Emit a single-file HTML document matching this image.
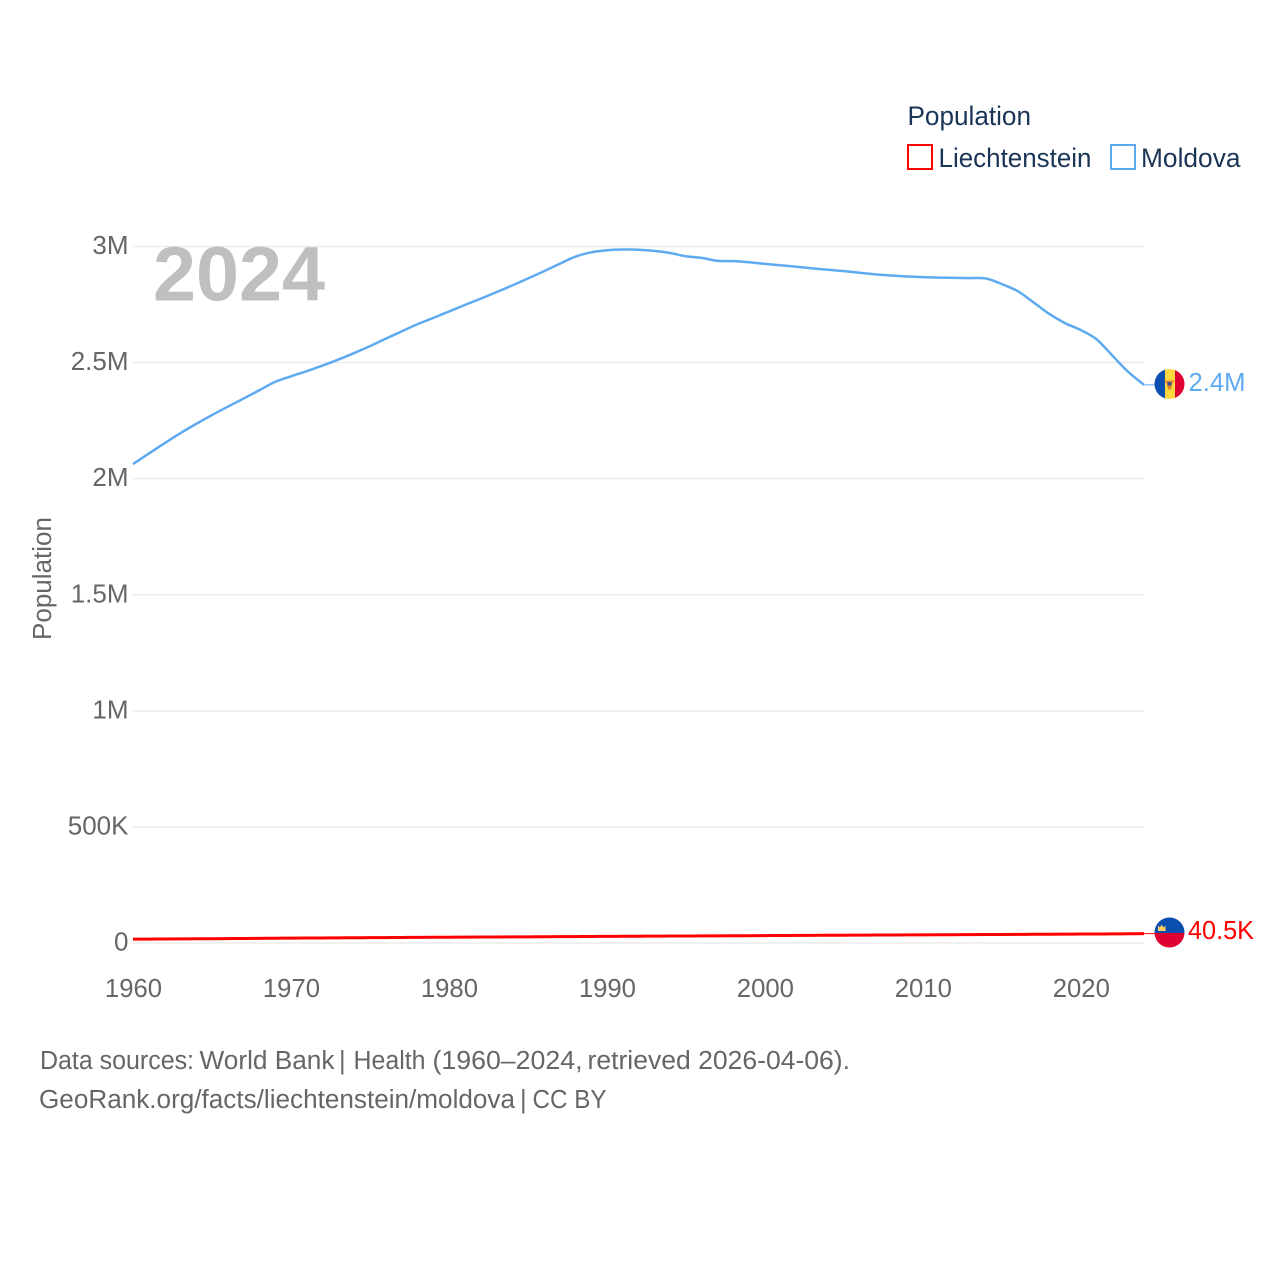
<!DOCTYPE html>
<html lang="en">
<head>
<meta charset="utf-8">
<title>Population: Liechtenstein and Moldova</title>
<style>
html,body{margin:0;padding:0;background:#fff;width:1280px;height:1280px;overflow:hidden}
svg{display:block}
text{font-family:"Liberation Sans",sans-serif}
</style>
</head>
<body>
<svg id="chart" xmlns="http://www.w3.org/2000/svg" width="1280" height="1280" viewBox="0 0 1280 1280">
  <rect width="1280" height="1280" fill="#fff"/>
  <g id="grid"></g>
  <g id="yticks"></g>
  <g id="xticks"></g>
  <text x="153" y="300.5" font-size="77" font-weight="700" fill="#bfbfbf" textLength="172" lengthAdjust="spacingAndGlyphs">2024</text>
  <text transform="translate(51 640) rotate(-90)" font-size="25.5" fill="#666" textLength="123" lengthAdjust="spacingAndGlyphs">Population</text>
  <g id="series"></g>

  <g>
    <text x="907.5" y="125" font-size="26.5" fill="#1b3557" textLength="123.5" lengthAdjust="spacingAndGlyphs">Population</text>
    <rect x="908" y="145" width="24" height="24" fill="#fff" stroke="#ff0000" stroke-width="2"/>
    <text x="938.5" y="167" font-size="26.5" fill="#1b3557" textLength="153" lengthAdjust="spacingAndGlyphs">Liechtenstein</text>
    <rect x="1111" y="145" width="24" height="24" fill="#fff" stroke="#5eaaf0" stroke-width="2"/>
    <text x="1141" y="167" font-size="26.5" fill="#1b3557" textLength="99.5" lengthAdjust="spacingAndGlyphs">Moldova</text>
  </g>

  <defs>
    <clipPath id="clip-md"><circle cx="1169.5" cy="384" r="15"/></clipPath>
    <clipPath id="clip-li"><circle cx="1169.5" cy="932.5" r="15"/></clipPath>
  </defs>
  <g clip-path="url(#clip-md)">
    <rect x="1154" y="369" width="11" height="30" fill="#0a4fb0"/>
    <rect x="1165" y="369" width="10" height="30" fill="#ffd83d"/>
    <rect x="1175" y="369" width="10" height="30" fill="#de0030"/>
    <path d="M1164 380.5 L1175 380.5 L1172 384 L1171 389.5 L1168 389.5 L1167 384 Z" fill="#e8862e"/>
    <rect x="1167.5" y="382" width="4" height="3.5" fill="#3a4a8c"/>
  </g>
  <g clip-path="url(#clip-li)">
    <rect x="1154" y="917" width="31" height="16" fill="#0a4fb0"/>
    <rect x="1154" y="933" width="31" height="15" fill="#de0030"/>
    <path d="M1158 931 L1158 925.5 L1160 927.5 L1161.5 924.5 L1163.5 927.5 L1165.5 925.5 L1165.5 931 Z" fill="#ffd060"/>
  </g>
  <text x="1188.5" y="391" font-size="25.5" fill="#5eaaf0" textLength="57" lengthAdjust="spacingAndGlyphs">2.4M</text>
  <text x="1188" y="939" font-size="25.5" fill="#ff0000" textLength="66" lengthAdjust="spacingAndGlyphs">40.5K</text>

  <g font-size="25.5" fill="#666">
    <text x="40" y="1069" textLength="154" lengthAdjust="spacingAndGlyphs">Data sources:</text>
    <text x="199.5" y="1069" textLength="135" lengthAdjust="spacingAndGlyphs">World Bank</text>
    <text x="339" y="1069">|</text>
    <text x="353.5" y="1069" textLength="72" lengthAdjust="spacingAndGlyphs">Health</text>
    <text x="432.5" y="1069" textLength="150" lengthAdjust="spacingAndGlyphs">(1960–2024,</text>
    <text x="587.5" y="1069" textLength="262.5" lengthAdjust="spacingAndGlyphs">retrieved 2026-04-06).</text>
  </g>
  <g font-size="25.5" fill="#666">
    <text x="39" y="1108" textLength="476" lengthAdjust="spacingAndGlyphs">GeoRank.org/facts/liechtenstein/moldova</text>
    <text x="520" y="1108">|</text>
    <text x="532.5" y="1108" textLength="74" lengthAdjust="spacingAndGlyphs">CC BY</text>
  </g>
</svg>
<script>
const years = [1960,1961,1962,1963,1964,1965,1966,1967,1968,1969,1970,1971,1972,1973,1974,1975,1976,1977,1978,1979,1980,1981,1982,1983,1984,1985,1986,1987,1988,1989,1990,1991,1992,1993,1994,1995,1996,1997,1998,1999,2000,2001,2002,2003,2004,2005,2006,2007,2008,2009,2010,2011,2012,2013,2014,2015,2016,2017,2018,2019,2020,2021,2022,2023,2024];
const moldova = [2063000,2108000,2153000,2196000,2236000,2274000,2310000,2345000,2381000,2417000,2441000,2463000,2487000,2513000,2541000,2571000,2603000,2634000,2665000,2692000,2720000,2748000,2775000,2803000,2832000,2862000,2893000,2925000,2956000,2975000,2984000,2987000,2986000,2981000,2972000,2958000,2951000,2938000,2937000,2932000,2925000,2919000,2913000,2906000,2900000,2894000,2887000,2880000,2875000,2871000,2868000,2866000,2865000,2864000,2862000,2838000,2808000,2760000,2710000,2670000,2640000,2600000,2530000,2460000,2404000];
const liechtenstein = [16500,16900,17300,17700,18100,18500,19000,19500,20000,20500,21000,21400,21800,22200,22600,23000,23400,23800,24200,24600,25000,25300,25600,25900,26200,26500,26900,27300,27700,28100,28500,28900,29300,29600,29900,30200,30500,30800,31100,31500,31900,32300,32700,33000,33300,33600,33900,34200,34500,34800,35100,35400,35700,36100,36500,36800,37100,37500,37900,38200,38500,38800,39100,39800,40500];
const yTickValues = [0,500000,1000000,1500000,2000000,2500000,3000000];
const yTickLabels = ["0","500K","1M","1.5M","2M","2.5M","3M"];
const xTickValues = [1960,1970,1980,1990,2000,2010,2020];

const NS = 'http://www.w3.org/2000/svg';
const xScale = function (year) { return 133 + (year - 1960) * (1144 - 133) / 64; };
const yScale = function (value) { return 943 - value * (943 - 246.5) / 3000000; };
const make = function (tag, parent) {
  const el = document.createElementNS(NS, tag);
  parent.appendChild(el);
  return el;
};

const grid = document.getElementById('grid');
const yticks = document.getElementById('yticks');
const xticks = document.getElementById('xticks');
const series = document.getElementById('series');

yTickValues.forEach(function (value, i) {
  const line = make('line', grid);
  
  
  line.setAttribute('x1', 133);
  line.setAttribute('x2', 1144);
  line.setAttribute('y1', yScale(value));
  line.setAttribute('y2', yScale(value));
  line.setAttribute('stroke', '#ebebeb');
  line.setAttribute('stroke-width', 1.5);

  const label = make('text', yticks);
  
  
  label.setAttribute('x', 128.5);
  label.setAttribute('y', yScale(value) + 7.5);
  label.setAttribute('text-anchor', 'end');
  label.setAttribute('font-size', 26);
  label.setAttribute('fill', '#666');
  label.textContent = yTickLabels[i];
});

xTickValues.forEach(function (year) {
  const label = make('text', xticks);
  
  
  label.setAttribute('x', xScale(year) + 0.5);
  label.setAttribute('y', 997);
  label.setAttribute('text-anchor', 'middle');
  label.setAttribute('font-size', 25.7);
  label.setAttribute('fill', '#666');
  label.textContent = String(year);
});

const pathFor = function (values) {
  const pts = values.map(function (v, i) {
    return [xScale(years[i]), yScale(v)];
  });
  let d = 'M' + pts[0][0].toFixed(2) + ' ' + pts[0][1].toFixed(2);
  for (let i = 0; i < pts.length - 1; i++) {
    const p0 = pts[Math.max(i - 1, 0)];
    const p1 = pts[i];
    const p2 = pts[i + 1];
    const p3 = pts[Math.min(i + 2, pts.length - 1)];
    const c1x = p1[0] + (p2[0] - p0[0]) / 6;
    const c1y = p1[1] + (p2[1] - p0[1]) / 6;
    const c2x = p2[0] - (p3[0] - p1[0]) / 6;
    const c2y = p2[1] - (p3[1] - p1[1]) / 6;
    d += ' C' + c1x.toFixed(2) + ' ' + c1y.toFixed(2) + ' ' + c2x.toFixed(2) + ' ' + c2y.toFixed(2) + ' ' + p2[0].toFixed(2) + ' ' + p2[1].toFixed(2);
  }
  return d;
};

const moldovaLine = make('path', series);


moldovaLine.setAttribute('d', pathFor(moldova));
moldovaLine.setAttribute('fill', 'none');
moldovaLine.setAttribute('stroke', '#5eaaf0');
moldovaLine.setAttribute('stroke-width', 2.5);
moldovaLine.setAttribute('stroke-linejoin', 'round');

const liechtensteinLine = make('path', series);


liechtensteinLine.setAttribute('d', pathFor(liechtenstein));
liechtensteinLine.setAttribute('fill', 'none');
liechtensteinLine.setAttribute('stroke', '#ff0000');
liechtensteinLine.setAttribute('stroke-width', 3);
liechtensteinLine.setAttribute('stroke-linejoin', 'round');

const moldovaLeader = make('line', series);


moldovaLeader.setAttribute('x1', xScale(2024));
moldovaLeader.setAttribute('x2', 1155);
moldovaLeader.setAttribute('y1', yScale(moldova[moldova.length - 1]));
moldovaLeader.setAttribute('y2', yScale(moldova[moldova.length - 1]));
moldovaLeader.setAttribute('stroke', '#5eaaf0');
moldovaLeader.setAttribute('stroke-width', 1);

const liechtensteinLeader = make('line', series);


liechtensteinLeader.setAttribute('x1', xScale(2024));
liechtensteinLeader.setAttribute('x2', 1155);
liechtensteinLeader.setAttribute('y1', yScale(liechtenstein[liechtenstein.length - 1]));
liechtensteinLeader.setAttribute('y2', yScale(liechtenstein[liechtenstein.length - 1]));
liechtensteinLeader.setAttribute('stroke', '#ff0000');
liechtensteinLeader.setAttribute('stroke-width', 1);
</script>
</body>
</html>
